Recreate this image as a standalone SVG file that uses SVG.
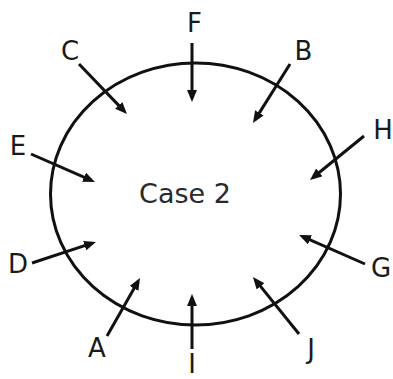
<svg xmlns="http://www.w3.org/2000/svg" width="393" height="379" viewBox="0 0 393 379">
<style>
text{font-family:"DejaVu Sans","Verdana",sans-serif;font-size:26px;fill:#1a1a1a;text-anchor:middle}
.arr{stroke:#111;stroke-width:3;fill:none;marker-end:url(#ah)}
</style>
<defs>
<marker id="ah" viewBox="0 0 12 10" refX="8" refY="5" markerWidth="12" markerHeight="10" markerUnits="userSpaceOnUse" orient="auto">
<path d="M0,0 L12,5 L0,10 z" fill="#111"/>
</marker>
</defs>
<rect width="393" height="379" fill="#fff"/>
<g id="circle">
<ellipse cx="195.5" cy="194" rx="145" ry="131" fill="none" stroke="#111" stroke-width="3"/>
<text x="185" y="203" style="font-size:27px;fill:#2a2a2a">Case 2</text>
</g>
<g id="connectors">
<line class="arr" x1="79" y1="64" x2="124.2" y2="111.1"/>
<line class="arr" x1="192" y1="43" x2="192" y2="98"/>
<line class="arr" x1="290" y1="64" x2="255.1" y2="119.6"/>
<line class="arr" x1="364" y1="136" x2="313.1" y2="177.5"/>
<line class="arr" x1="31" y1="154" x2="91.3" y2="180.4"/>
<line class="arr" x1="32" y1="263" x2="92.2" y2="243.2"/>
<line class="arr" x1="107" y1="336" x2="138" y2="281.5"/>
<line class="arr" x1="192" y1="349" x2="192" y2="298"/>
<line class="arr" x1="299" y1="334" x2="255.5" y2="280.1"/>
<line class="arr" x1="365" y1="264" x2="302.7" y2="236.6"/>
</g>
<g id="C"><text x="70" y="60">C</text></g>
<g id="F"><text x="194.5" y="32">F</text></g>
<g id="B"><text x="303.5" y="60">B</text></g>
<g id="H"><text x="383" y="139">H</text></g>
<g id="E"><text x="18" y="155">E</text></g>
<g id="D"><text x="18" y="273">D</text></g>
<g id="A"><text x="97" y="357">A</text></g>
<g id="I"><text x="192" y="373">I</text></g>
<g id="J"><text x="311" y="358">J</text></g>
<g id="G"><text x="381" y="277">G</text></g>
</svg>
